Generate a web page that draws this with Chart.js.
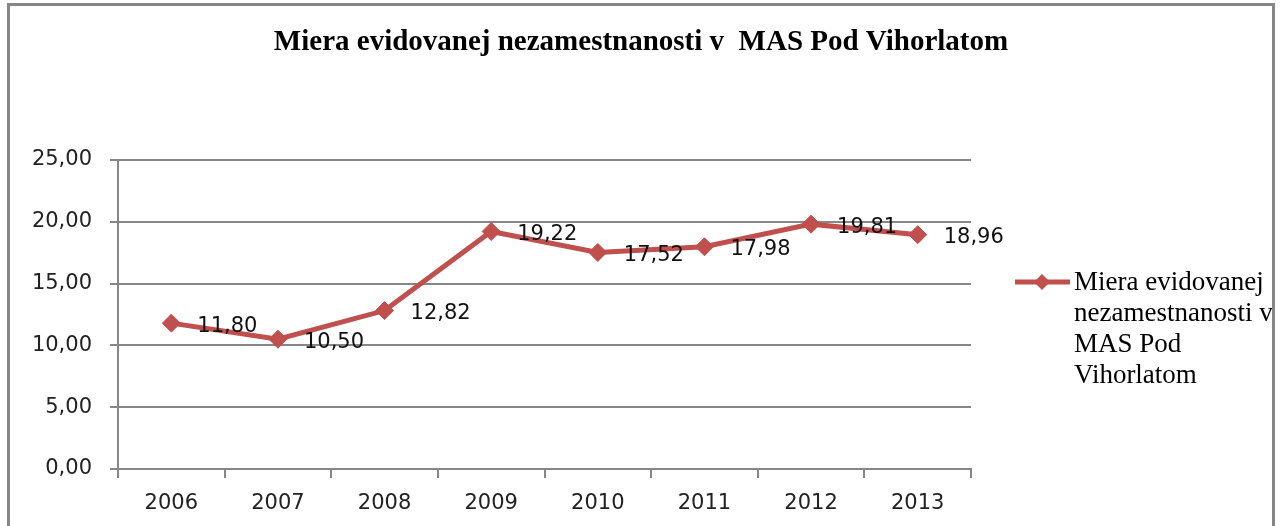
<!DOCTYPE html>
<html>
<head>
<meta charset="utf-8">
<script src="https://cdn.jsdelivr.net/npm/chart.js@4"></script>
<style>
  html, body { margin: 0; padding: 0; background: #ffffff; overflow: hidden; }
  #wrap { position: absolute; left: 0; top: 0; width: 1282px; height: 526px; }
  #frame {
    position: absolute; left: 7px; top: 3px; width: 1262px; height: 560px;
    border: 3px solid #878787; border-bottom: none; pointer-events: none;
  }
</style>
</head>
<body>
<div id="wrap">
  <canvas id="chart" width="1282" height="526"></canvas>
  <div id="frame"></div>
</div>
<script>
// Datos del gráfico
const years = ['2006', '2007', '2008', '2009', '2010', '2011', '2012', '2013'];
const rates = [11.80, 10.50, 12.82, 19.22, 17.52, 17.98, 19.81, 18.96];
const yTicks = [0, 5, 10, 15, 20, 25];
const chartTitle = 'Miera evidovanej nezamestnanosti v  MAS Pod Vihorlatom';
const legendLines = ['Miera evidovanej', 'nezamestnanosti v', 'MAS Pod', 'Vihorlatom'];

const lineColor = '#C0504D';
const gridColor = '#878787';
const labelFont = '"DejaVu Sans", sans-serif';

// Formato con coma decimal
function fmt(v) {
  return v.toFixed(2).replace('.', ',');
}

// Título centrado en todo el lienzo
const pageTitle = {
  id: 'pageTitle',
  afterDraw(chart) {
    const ctx = chart.ctx;
    ctx.save();
    ctx.font = 'bold 29px "Liberation Serif", serif';
    ctx.fillStyle = '#000';
    ctx.textAlign = 'center';
    ctx.textBaseline = 'alphabetic';
    ctx.fillText(chartTitle, chart.width / 2, 50);
    ctx.restore();
  }
};

// Etiquetas de datos a la derecha de cada punto
const dataLabels = {
  id: 'dataLabels',
  afterDatasetsDraw(chart) {
    const ctx = chart.ctx;
    const meta = chart.getDatasetMeta(0);
    ctx.save();
    ctx.font = '21px ' + labelFont;
    ctx.fillStyle = '#111';
    ctx.textAlign = 'left';
    ctx.textBaseline = 'middle';
    meta.data.forEach((pt, i) => {
      ctx.fillText(fmt(rates[i]), pt.x + 26, pt.y + 3);
    });
    ctx.restore();
  }
};

// Leyenda a la derecha (línea + rombo + texto en varias líneas)
const sideLegend = {
  id: 'sideLegend',
  afterDraw(chart) {
    const ctx = chart.ctx;
    const area = chart.chartArea;
    const x0 = area.right + 44;
    const y0 = area.top + 122;
    ctx.save();
    ctx.strokeStyle = lineColor;
    ctx.lineWidth = 5;
    ctx.beginPath();
    ctx.moveTo(x0, y0);
    ctx.lineTo(x0 + 55, y0);
    ctx.stroke();
    ctx.fillStyle = lineColor;
    ctx.beginPath();
    ctx.moveTo(x0 + 27, y0 - 8);
    ctx.lineTo(x0 + 35, y0);
    ctx.lineTo(x0 + 27, y0 + 8);
    ctx.lineTo(x0 + 19, y0);
    ctx.closePath();
    ctx.fill();
    ctx.fillStyle = '#000';
    ctx.font = '27px "Liberation Serif", serif';
    ctx.textAlign = 'left';
    ctx.textBaseline = 'alphabetic';
    legendLines.forEach((line, i) => {
      ctx.fillText(line, x0 + 59, y0 + 8 + i * 31);
    });
    ctx.restore();
  }
};

const ctx = document.getElementById('chart').getContext('2d');
const chart = new Chart(ctx, {
  type: 'line',
  data: {
    labels: years,
    datasets: [
      {
        label: legendLines.join(' '),
        data: rates,
        borderColor: lineColor,
        backgroundColor: lineColor,
        borderWidth: 5,
        tension: 0,
        fill: false,
        pointStyle: 'rectRot',
        pointRadius: 9,
        pointBorderWidth: 1,
        pointBackgroundColor: lineColor,
        pointBorderColor: lineColor,
      },
    ],
  },
  options: {
    responsive: false,
    animation: false,
    layout: {
      padding: { left: 0, right: 311, top: 160, bottom: 0 },
    },
    plugins: {
      legend: { display: false },
      tooltip: { enabled: false },
      title: { display: false },
    },
    scales: {
      x: {
        type: 'category',
        offset: true,
        grid: {
          offset: true,
          drawOnChartArea: false,
          drawTicks: true,
          tickLength: 9,
          color: gridColor,
          lineWidth: 2,
        },
        border: { display: true, color: gridColor, width: 2 },
        ticks: {
          color: '#222',
          font: { family: labelFont, size: 21 },
          padding: 13,
          maxRotation: 0,
        },
        afterFit(scale) {
          scale.height = 57;
        },
      },
      y: {
        min: 0,
        max: 25,
        afterBuildTicks(scale) {
          scale.ticks = yTicks.map(v => ({ value: v }));
        },
        grid: {
          color: gridColor,
          lineWidth: 2,
          tickLength: 8,
        },
        border: { display: true, color: gridColor, width: 2 },
        ticks: {
          color: '#222',
          font: { family: labelFont, size: 21 },
          padding: 18,
          callback: v => fmt(v),
        },
        afterFit(scale) {
          scale.width = 118;
        },
      },
    },
  },
  plugins: [pageTitle, dataLabels, sideLegend],
});
</script>
</body>
</html>
